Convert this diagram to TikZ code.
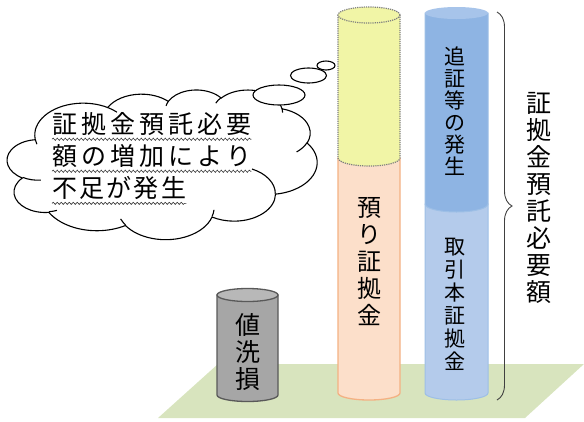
\documentclass[tikz,border=0pt]{standalone}
\usepackage{fontspec}
\setmainfont{Noto Sans CJK JP}
\usetikzlibrary{shapes.geometric,decorations.pathreplacing,decorations.pathmorphing}
\definecolor{floorc}{HTML}{D8E4BE}
\definecolor{grayfill}{HTML}{A6A6A6}
\definecolor{graytop}{HTML}{B8B8B8}
\definecolor{grayline}{HTML}{595959}
\definecolor{orfill}{HTML}{FCDFCA}
\definecolor{orline}{HTML}{F4B183}
\definecolor{yelfill}{HTML}{F1F5A6}
\definecolor{yelline}{HTML}{7F7F7F}
\definecolor{bluedark}{HTML}{8EB4E3}
\definecolor{bluetop}{HTML}{A7C4EA}
\definecolor{bluelight}{HTML}{B4CBEB}
\definecolor{blueline}{HTML}{9DBFE6}
\definecolor{bracec}{HTML}{404040}
\tikzset{
  vlabel/.style={align=center,inner sep=0pt},
  cltext/.style={anchor=west,inner sep=0pt,font=\fontsize{25}{25}\selectfont},
  wavy/.style={draw=black!80,line width=0.6pt,decorate,decoration={snake,amplitude=1.1pt,segment length=4pt}},
  bubble/.style={draw=black,line width=1.1pt,fill=white},
  cloudline/.style={draw=black,line width=1.1pt}
}
\begin{document}
\begin{tikzpicture}[x=1pt,y=-1pt]
\useasboundingbox (0,0) rectangle (584,421);
% floor
\fill[floorc] (158,418) -- (218,364) -- (584,364) -- (525,418) -- cycle;
% gray cylinder
\draw[grayline,line width=1.3pt,fill=grayfill] (217,295) -- (217,395) arc[start angle=180,end angle=360,x radius=30.5pt,y radius=6.5pt] -- (278,295) -- cycle;
\draw[grayline,line width=1.3pt,fill=graytop] (247.5,295) ellipse[x radius=30.5pt,y radius=6.5pt];
\node[vlabel,font=\fontsize{25}{27}\selectfont] (gl) at (248,352) {値\\洗\\損};
% orange cylinder
\draw[orline,line width=1.3pt,fill=orfill] (338,158) -- (338,393) arc[start angle=180,end angle=360,x radius=31pt,y radius=7pt] -- (400,158) -- cycle;
% yellow cylinder
\fill[yelfill] (338,15) -- (338,158) arc[start angle=180,end angle=360,x radius=31pt,y radius=8pt] -- (400,15) -- cycle;
\draw[yelline,line width=1.2pt,densely dotted] (338,15) -- (338,158) arc[start angle=180,end angle=360,x radius=31pt,y radius=8pt] -- (400,15);
\draw[yelline,line width=1.2pt,densely dotted,fill=yelfill] (369,15) ellipse[x radius=31pt,y radius=8pt];
\node[vlabel,font=\fontsize{24}{27}\selectfont] (ol) at (369,262) {預\\り\\証\\拠\\金};
% blue cylinder lower
\draw[blueline,line width=1pt,fill=bluelight] (425,204) -- (425,393) arc[start angle=180,end angle=360,x radius=31.5pt,y radius=7pt] -- (488,204) -- cycle;
% blue cylinder upper
\draw[blueline,line width=1pt,fill=bluedark] (425,13) -- (425,204) arc[start angle=180,end angle=360,x radius=31.5pt,y radius=8pt] -- (488,13) -- cycle;
\fill[bluetop] (456.5,13) ellipse[x radius=31.5pt,y radius=6pt];
\node[vlabel,font=\fontsize{21}{22}\selectfont] (bl1) at (455,111) {追\\証\\等\\の\\発\\生};
\node[vlabel,font=\fontsize{21}{23}\selectfont] (bl2) at (455,304) {取\\引\\本\\証\\拠\\金};
% brace
\coordinate (bt) at (497,12);
\coordinate (bb) at (497,400);
\draw[bracec,line width=0.9pt,decorate,decoration={brace,amplitude=15pt}] (bt) -- (bb);
\node[vlabel,font=\fontsize{25}{27}\selectfont] (br) at (539,198) {証\\拠\\金\\預\\託\\必\\要\\額};
% cloud (OOXML cloud geometry, 43200 units box)
\begin{scope}[shift={(7.24,89.5)},x=0.007167pt,y=-0.0034706pt]
\path[cloudline,fill=white] (3900,14370)
  arc[start angle=-187.745,end angle=-59.63,x radius=6753,y radius=9190]
  arc[start angle=-152.02,end angle=-45.46,x radius=5333,y radius=7267]
  arc[start angle=-153.50,end angle=-37.30,x radius=4365,y radius=5945]
  arc[start angle=-139.72,end angle=-10.21,x radius=4857,y radius=6595]
  arc[start angle=-74.77,end angle=23.21,x radius=5333,y radius=7273]
  arc[start angle=-37.52,end angle=81.86,x radius=6775,y radius=9220]
  arc[start angle=0.4596,end angle=121.97,x radius=5785,y radius=7867]
  arc[start angle=16.84,end angle=146.24,x radius=6752,y radius=9215]
  arc[start angle=58.98,end angle=150.20,x radius=7720,y radius=10543]
  arc[start angle=-276.69,end angle=-136.87,x radius=4360,y radius=5918]
  arc[start angle=-239.64,end angle=-95.89,x radius=4345,y radius=5945]
  -- cycle;
\draw[cloudline] (4693,26177) arc[start angle=85.545,end angle=120.36,x radius=4345,y radius=5945];
\draw[cloudline] (6928,34899) arc[start angle=68.23,end angle=83.30,x radius=4360,y radius=5918];
\draw[cloudline] (16478,39090) arc[start angle=146.24,end angle=158.47,x radius=6752,y radius=9215];
\draw[cloudline] (28827,34751) arc[start angle=4.737,end angle=16.84,x radius=6752,y radius=9215];
\draw[cloudline] (34129,22954) arc[start angle=-64.02,end angle=0.4596,x radius=5785,y radius=7867];
\draw[cloudline] (41798,15354) arc[start angle=23.21,end angle=49.64,x radius=5333,y radius=7273];
\draw[cloudline] (38324,5426) arc[start angle=-10.21,end angle=0.818,x radius=4857,y radius=6595];
\draw[cloudline] (29078,3952) arc[start angle=-156.28,end angle=-139.72,x radius=4857,y radius=6595];
\draw[cloudline] (22141,4720) arc[start angle=-167.73,end angle=-153.50,x radius=4365,y radius=5945];
\draw[cloudline] (14000,5192) arc[start angle=-59.63,end angle=-45.73,x radius=6753,y radius=9190];
\draw[cloudline] (4127,15789) arc[start angle=163.19,end angle=172.255,x radius=6753,y radius=9190];
\end{scope}
\node[bubble,ellipse,minimum width=52pt,minimum height=20pt,inner sep=0pt] (b1) at (279,95) {};
\node[bubble,ellipse,minimum width=36pt,minimum height=15pt,inner sep=0pt] (b2) at (308.5,75.5) {};
\node[bubble,ellipse,minimum width=18pt,minimum height=9pt,inner sep=0pt] (b3) at (326,65.5) {};
% cloud text
\node[cltext] (t1) at (52,124) {\makebox[199pt]{証\hfill 拠\hfill 金\hfill 預\hfill 託\hfill 必\hfill 要}};
\node[cltext] (t2) at (52,156) {\makebox[199pt]{額\hfill の\hfill 増\hfill 加\hfill に\hfill よ\hfill り}};
\node[cltext] (t3) at (52,188) {\makebox[134pt]{不\hfill 足\hfill が\hfill 発\hfill 生}};
\draw[wavy] ([yshift=-3.5pt]t1.south west) -- ([yshift=-3.5pt]t1.south east);
\draw[wavy] ([yshift=-3.5pt]t2.south west) -- ([yshift=-3.5pt]t2.south east);
\draw[wavy] ([yshift=-3.5pt]t3.south west) -- ([yshift=-3.5pt]t3.south east);
\end{tikzpicture}
\end{document}
